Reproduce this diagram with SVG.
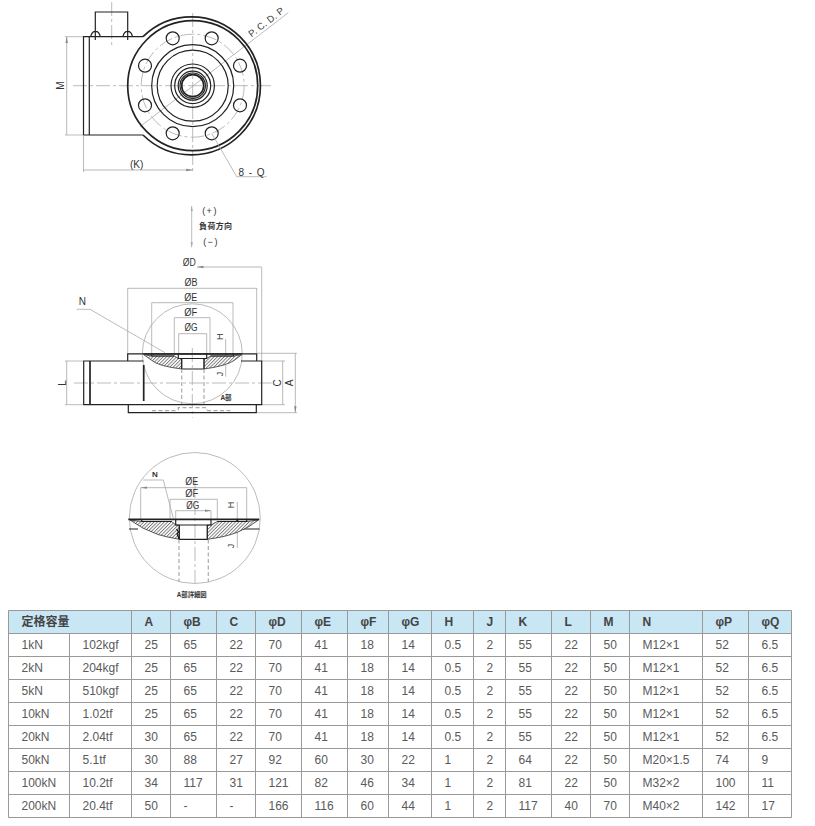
<svg xmlns="http://www.w3.org/2000/svg" width="815" height="826" viewBox="0 0 815 826">
<style>
text{font-family:"Liberation Sans",Arial,"Noto Sans CJK JP",sans-serif}
.o{fill:none;stroke:#222;stroke-width:1.2}
.w{fill:#fff;stroke:#222;stroke-width:1.2}
.t{fill:none;stroke:#222;stroke-width:1.7}
.g{fill:none;stroke:#aaa;stroke-width:.8}
.c{fill:none;stroke:#aaa;stroke-width:.8;stroke-dasharray:14 3 3 3}
.h{fill:none;stroke:#aaa;stroke-width:1.2;stroke-dasharray:4 2.5}
.d{fill:none;stroke:#999;stroke-width:.7;marker-start:url(#a);marker-end:url(#a)}
.s{fill:url(#hatch);stroke:#333;stroke-width:.8}
.l{font-size:10px;fill:#333;text-anchor:middle}
.j{font-size:8px;fill:#333;text-anchor:middle;font-weight:bold}
.td{font-size:12px;fill:#5a5a5a}
.th{font-size:12px;fill:#444;font-weight:bold}
.grid{fill:none;stroke:#999;stroke-width:1}
</style>
<defs>
<marker id="a" markerWidth="7" markerHeight="4" refX="6.5" refY="2" orient="auto-start-reverse" markerUnits="userSpaceOnUse"><path d="M0 .8L6.5 2L0 3.2z" fill="#888"/></marker>
<marker id="b" markerWidth="5" markerHeight="12" refX="11" refY="2.5" orient="auto-start-reverse" markerUnits="userSpaceOnUse" viewBox="0 0 11 5"><path d="M0 0L11 2.5L0 5z" fill="#aaa"/></marker>
<pattern id="hatch" width="2.4" height="2.4" patternUnits="userSpaceOnUse" patternTransform="rotate(45)"><rect width="2.4" height="2.4" fill="#fff"/><rect width=".9" height="2.4" fill="#777"/></pattern>
</defs>

<g id="top-view">
<path class="g" d="M140 126.7L288.3 12.7"/>
<path class="c" d="M73 85.7H271.7M192.7 13V172M111.7 2V47"/>
<path class="o" d="M95.3 40V12H127.7V40M90.7 36.7A5 7.5 0 0 1 100.3 36.7M122.9 36.7A5 7.5 0 0 1 132.5 36.7"/>
<path class="o" d="M143 36.7H83.5V135H143M89.3 36.7V135"/>
<path class="t" d="M143 36.7A69 69 0 1 1 143 135"/>
<circle class="t" cx="192.7" cy="85.7" r="65"/>
<circle cx="192.7" cy="85.7" r="51.5" class="c"/>
<g class="o">
<circle cx="172.7" cy="38.3" r="6.5"/><circle cx="211.7" cy="38.3" r="6.5"/>
<circle cx="145" cy="65.7" r="6.5"/><circle cx="240" cy="65.7" r="6.5"/>
<circle cx="145" cy="105.3" r="6.5"/><circle cx="240" cy="105.3" r="6.5"/>
<circle cx="172.7" cy="133.3" r="6.5"/><circle cx="211.7" cy="133.3" r="6.5"/>
<circle cx="192.7" cy="85.7" r="41"/><circle cx="192.7" cy="85.7" r="35.5"/>
<circle cx="192.7" cy="85.7" r="21.7"/><circle cx="192.7" cy="85.7" r="18"/>
<circle cx="192.7" cy="85.7" r="14.5"/><circle cx="192.7" cy="85.7" r="12.7"/>
</g>
<circle class="t" cx="192.7" cy="85.7" r="11"/>
<path class="g" d="M65 36.7H83M65 135H83M83.5 135V172M211.7 133.3L236.7 176.7H266.7"/>
<path class="d" d="M66.7 36.7V135M83.5 170H192.7"/>
<text class="l" transform="rotate(-90 64 85.7)" x="64" y="85.7">M</text>
<text class="l" x="136.7" y="168">(K)</text>
<text class="l" x="252" y="175.5" style="letter-spacing:1px">8 - Q</text>
<text class="l" transform="rotate(-37.5 251.5 37.5)" x="251.5" y="37.5" textLength="42" style="font-size:9.5px;text-anchor:start">P. C. D. P</text>
</g>

<g id="load-direction">
<path d="M191.7 206V247.3" fill="none" stroke="#aaa" stroke-width=".8" marker-start="url(#b)" marker-end="url(#b)"/>
<text class="j" x="210" y="213.5" style="font-size:9px;letter-spacing:1.5px;font-weight:normal">(+)</text>
<text class="j" x="215.7" y="229" style="letter-spacing:.3px">負荷方向</text>
<text class="j" x="211" y="245" style="font-size:9px;letter-spacing:1.5px;font-weight:normal">(−)</text>
</g>

<g id="side-view">
<circle class="g" cx="192.3" cy="353.8" r="50"/>
<path class="c" d="M74 383H271.7M192.3 348V417.7"/>
<path class="g" d="M261.7 267V361M127.7 288V353M256.7 288V353M151.7 302.7V354M233 302.7V354M174.3 317.7V354M210 317.7V354M178.7 333.7V354M206.7 333.7V354M225.7 339V376.7M76.7 309.3H90L165 352.7"/>
<path class="g" d="M65 361H83M65 404.7H83M261.7 361H285M261.7 404.7H285M256.7 353.3H297M256.7 412.7H297"/>
<path class="o" d="M127.7 361V353.8H256.7V361M128.3 404.7V412.7H256.3V404.7"/>
<path class="o" d="M143.5 361H83.7V404.7H261.7V361H241"/>
<path class="t" d="M90 361V404.7M143.7 365V401M143.5 354H242"/>
<path class="s" d="M143.5 354.5L151.7 356H174.3L178.3 358.5H181.7V369Q158 366 152 360.5Z"/>
<path class="s" d="M242 354.5L233.5 356H210.5L206.7 358.5H204V369Q226 366 234 360.5Z"/>
<path class="o" d="M178.3 354.3V358.5H206.7V354.3M181.7 358.5V369H204V358.5M151.7 354.3V356H174.3M210.5 356H233.5V354.3"/>
<path class="h" d="M181.7 369V404M204 369V404M152 410.7H178M207 410.7H233M178.3 410V407.7H206.7V410"/>
<path class="d" d="M197 267H261.7M127.7 288.3H256.7M151.7 302.7H233M174.3 317.7H210M178.7 333.7H206.7M66.7 361V404.7M282.7 361V404.7M295.3 353.3V412.7"/>
<text class="l" x="182.7" y="266" textLength="13" lengthAdjust="spacingAndGlyphs" style="text-anchor:start">ØD</text>
<text class="l" x="184.5" y="286" textLength="13" lengthAdjust="spacingAndGlyphs" style="text-anchor:start">ØB</text>
<text class="l" x="184.2" y="301" textLength="13" lengthAdjust="spacingAndGlyphs" style="text-anchor:start">ØE</text>
<text class="l" x="184.2" y="316" textLength="13" lengthAdjust="spacingAndGlyphs" style="text-anchor:start">ØF</text>
<text class="l" x="184.5" y="331" textLength="13" lengthAdjust="spacingAndGlyphs" style="text-anchor:start">ØG</text>
<text class="l" x="82.3" y="304.5">N</text>
<text class="l" transform="rotate(-90 223.3 336.7)" x="223.3" y="336.7" style="font-size:9px">H</text>
<text class="l" transform="rotate(-90 223.3 374)" x="223.3" y="374" style="font-size:9px">J</text>
<text class="l" transform="rotate(-90 66 383)" x="66" y="383">L</text>
<text class="l" transform="rotate(-90 280.7 383)" x="280.7" y="383">C</text>
<text class="l" transform="rotate(-90 292.5 383)" x="292.5" y="383">A</text>
<text class="j" x="226" y="399.5" style="font-size:6.5px">A部</text>
</g>

<g id="detail-a">
<circle class="g" cx="194.8" cy="518" r="65.5"/>
<path class="c" d="M195 478V583"/>
<path class="g" d="M140.7 487.7V519M246.7 487.7V519M170 499.3V519M217.3 499.3V519M175.7 510.7V519M211 510.7V519M237.3 501.7V548M143.3 480H163.3L173.3 518.3"/>
<path class="o" d="M129 529H138M240 529H259.5" stroke-width="1"/>
<path class="s" d="M130 520L141.7 521.5H171.7L175.7 525H179.3V539.3Q166 537 158 534.5Q142 529 130 520Z"/>
<path class="s" d="M258.3 520L246.7 521.5H217.3L211 525H207.3V539.3Q226 537 238 532Q250 527 258.3 520Z"/>
<path class="t" d="M128.3 519.3H259.3"/>
<path class="o" d="M175.7 519.3V525H211V519.3M179.3 525V539.3H207.3V525M141.7 519.3V521.5H171.7M217.3 521.5H246.7V519.3"/>
<path d="M176.5 529L178.5 532L177 534L179.3 539" fill="none" stroke="#111" stroke-width="1.2"/>
<circle cx="237.3" cy="520" r="1.2" fill="#222"/>
<path class="h" d="M179 539.5V582M208.3 539.5V582"/>
<path class="d" d="M140.7 487.7H246.7M170 499.3H217.3M175.7 510.7H211"/>
<text class="l" x="185.2" y="485.2" textLength="13" lengthAdjust="spacingAndGlyphs" style="text-anchor:start">ØE</text>
<text class="l" x="185.2" y="497" textLength="13" lengthAdjust="spacingAndGlyphs" style="text-anchor:start">ØF</text>
<text class="l" x="186.2" y="508.5" textLength="13" lengthAdjust="spacingAndGlyphs" style="text-anchor:start">ØG</text>
<text class="l" x="155" y="476.5" style="font-size:8px;font-weight:bold">N</text>
<text class="l" transform="rotate(-90 233.5 505)" x="233.5" y="505" style="font-size:9px">H</text>
<text class="l" transform="rotate(-90 233.5 546)" x="233.5" y="546" style="font-size:9px">J</text>
<text class="j" x="191.7" y="596.5" style="font-size:6.3px">A部詳細図</text>
</g>

<g id="spec-table">
<rect x="8.5" y="610.5" width="783" height="23" fill="#c9e6f5"/>
<path class="grid" d="M8.5 610.5H791.5V817.5H8.5ZM8.5 633.5H791.5M8.5 656.5H791.5M8.5 679.5H791.5M8.5 702.5H791.5M8.5 725.5H791.5M8.5 748.5H791.5M8.5 771.5H791.5M8.5 794.5H791.5M69.5 633.5V817.5M131.5 610.5V817.5M170.5 610.5V817.5M216.5 610.5V817.5M255.5 610.5V817.5M301.5 610.5V817.5M347.5 610.5V817.5M388.5 610.5V817.5M431.5 610.5V817.5M473.5 610.5V817.5M505.5 610.5V817.5M551.5 610.5V817.5M590.5 610.5V817.5M629.5 610.5V817.5M702.5 610.5V817.5M748.5 610.5V817.5"/>
<g class="th">
<text x="21.5" y="626">定格容量</text><text x="144.5" y="626">A</text><text x="183.5" y="626">φB</text><text x="229.5" y="626">C</text><text x="268.5" y="626">φD</text><text x="314.5" y="626">φE</text><text x="360.5" y="626">φF</text><text x="401.5" y="626">φG</text><text x="444.5" y="626">H</text><text x="486.5" y="626">J</text><text x="518.5" y="626">K</text><text x="564.5" y="626">L</text><text x="603.5" y="626">M</text><text x="642.5" y="626">N</text><text x="715.5" y="626">φP</text><text x="761.5" y="626">φQ</text>
</g>
<g class="td">
<text x="21.5" y="649">1kN</text><text x="82.5" y="649">102kgf</text><text x="144.5" y="649">25</text><text x="183.5" y="649">65</text><text x="229.5" y="649">22</text><text x="268.5" y="649">70</text><text x="314.5" y="649">41</text><text x="360.5" y="649">18</text><text x="401.5" y="649">14</text><text x="444.5" y="649">0.5</text><text x="486.5" y="649">2</text><text x="518.5" y="649">55</text><text x="564.5" y="649">22</text><text x="603.5" y="649">50</text><text x="642.5" y="649">M12×1</text><text x="715.5" y="649">52</text><text x="761.5" y="649">6.5</text>
<text x="21.5" y="672">2kN</text><text x="82.5" y="672">204kgf</text><text x="144.5" y="672">25</text><text x="183.5" y="672">65</text><text x="229.5" y="672">22</text><text x="268.5" y="672">70</text><text x="314.5" y="672">41</text><text x="360.5" y="672">18</text><text x="401.5" y="672">14</text><text x="444.5" y="672">0.5</text><text x="486.5" y="672">2</text><text x="518.5" y="672">55</text><text x="564.5" y="672">22</text><text x="603.5" y="672">50</text><text x="642.5" y="672">M12×1</text><text x="715.5" y="672">52</text><text x="761.5" y="672">6.5</text>
<text x="21.5" y="695">5kN</text><text x="82.5" y="695">510kgf</text><text x="144.5" y="695">25</text><text x="183.5" y="695">65</text><text x="229.5" y="695">22</text><text x="268.5" y="695">70</text><text x="314.5" y="695">41</text><text x="360.5" y="695">18</text><text x="401.5" y="695">14</text><text x="444.5" y="695">0.5</text><text x="486.5" y="695">2</text><text x="518.5" y="695">55</text><text x="564.5" y="695">22</text><text x="603.5" y="695">50</text><text x="642.5" y="695">M12×1</text><text x="715.5" y="695">52</text><text x="761.5" y="695">6.5</text>
<text x="21.5" y="718">10kN</text><text x="82.5" y="718">1.02tf</text><text x="144.5" y="718">25</text><text x="183.5" y="718">65</text><text x="229.5" y="718">22</text><text x="268.5" y="718">70</text><text x="314.5" y="718">41</text><text x="360.5" y="718">18</text><text x="401.5" y="718">14</text><text x="444.5" y="718">0.5</text><text x="486.5" y="718">2</text><text x="518.5" y="718">55</text><text x="564.5" y="718">22</text><text x="603.5" y="718">50</text><text x="642.5" y="718">M12×1</text><text x="715.5" y="718">52</text><text x="761.5" y="718">6.5</text>
<text x="21.5" y="741">20kN</text><text x="82.5" y="741">2.04tf</text><text x="144.5" y="741">30</text><text x="183.5" y="741">65</text><text x="229.5" y="741">22</text><text x="268.5" y="741">70</text><text x="314.5" y="741">41</text><text x="360.5" y="741">18</text><text x="401.5" y="741">14</text><text x="444.5" y="741">0.5</text><text x="486.5" y="741">2</text><text x="518.5" y="741">55</text><text x="564.5" y="741">22</text><text x="603.5" y="741">50</text><text x="642.5" y="741">M12×1</text><text x="715.5" y="741">52</text><text x="761.5" y="741">6.5</text>
<text x="21.5" y="764">50kN</text><text x="82.5" y="764">5.1tf</text><text x="144.5" y="764">30</text><text x="183.5" y="764">88</text><text x="229.5" y="764">27</text><text x="268.5" y="764">92</text><text x="314.5" y="764">60</text><text x="360.5" y="764">30</text><text x="401.5" y="764">22</text><text x="444.5" y="764">1</text><text x="486.5" y="764">2</text><text x="518.5" y="764">64</text><text x="564.5" y="764">22</text><text x="603.5" y="764">50</text><text x="642.5" y="764">M20×1.5</text><text x="715.5" y="764">74</text><text x="761.5" y="764">9</text>
<text x="21.5" y="787">100kN</text><text x="82.5" y="787">10.2tf</text><text x="144.5" y="787">34</text><text x="183.5" y="787">117</text><text x="229.5" y="787">31</text><text x="268.5" y="787">121</text><text x="314.5" y="787">82</text><text x="360.5" y="787">46</text><text x="401.5" y="787">34</text><text x="444.5" y="787">1</text><text x="486.5" y="787">2</text><text x="518.5" y="787">81</text><text x="564.5" y="787">22</text><text x="603.5" y="787">50</text><text x="642.5" y="787">M32×2</text><text x="715.5" y="787">100</text><text x="761.5" y="787">11</text>
<text x="21.5" y="810">200kN</text><text x="82.5" y="810">20.4tf</text><text x="144.5" y="810">50</text><text x="183.5" y="810">-</text><text x="229.5" y="810">-</text><text x="268.5" y="810">166</text><text x="314.5" y="810">116</text><text x="360.5" y="810">60</text><text x="401.5" y="810">44</text><text x="444.5" y="810">1</text><text x="486.5" y="810">2</text><text x="518.5" y="810">117</text><text x="564.5" y="810">40</text><text x="603.5" y="810">70</text><text x="642.5" y="810">M40×2</text><text x="715.5" y="810">142</text><text x="761.5" y="810">17</text>
</g>
</g>
</svg>
